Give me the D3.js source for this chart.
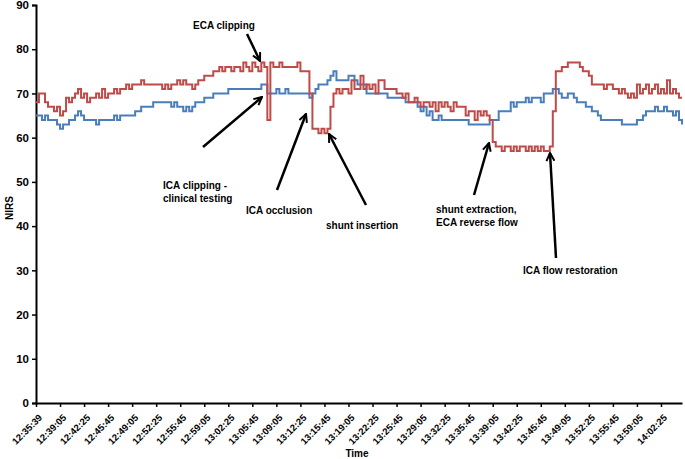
<!DOCTYPE html>
<html><head><meta charset="utf-8">
<script src="https://cdn.jsdelivr.net/npm/d3@7"></script>
<style>
body{margin:0;background:#fff;}
text{font-family:"Liberation Sans",Arial,sans-serif;font-weight:bold;fill:#000;}
</style></head>
<body><svg id="c" width="685" height="459"></svg>
<script>
const timeLabels = ["12:35:39","12:39:05","12:42:25","12:45:45","12:49:05","12:52:25","12:55:45","12:59:05","13:02:25","13:05:45","13:09:05","13:12:25","13:15:45","13:19:05","13:22:25","13:25:45","13:29:05","13:32:25","13:35:45","13:39:05","13:42:25","13:45:45","13:49:05","13:52:25","13:55:45","13:59:05","14:02:25"];
const pointsPerLabel = 8;
const yTicks = [0,10,20,30,40,50,60,70,80,90];

const redSeries = [68,70,70,68,67,67,66,67,65,66,69,68,69,70,71,69,70,68,69,69,
70,69,71,69,70,70,71,70,71,71,72,71,72,72,72,73,72,72,72,72,
72,72,71,72,71,72,72,73,72,73,72,72,71,72,73,73,74,74,74,75,
75,76,75,76,76,75,76,76,75,77,76,75,77,76,75,77,76,64,77,76,
76,77,76,76,76,76,76,77,75,75,75,70,62,62,61,62,61,62,67,70,
71,70,71,71,70,73,71,71,74,71,72,71,72,70,73,73,71,71,71,71,
70,70,69,70,68,68,69,68,67,68,68,67,68,66,68,67,68,67,66,68,
67,67,67,65,66,66,64,66,65,66,65,64,59,58,58,57,58,58,57,58,
57,58,58,57,58,57,58,57,58,57,57,58,66,75,75,76,76,77,77,77,
77,76,75,75,74,72,72,72,72,71,72,72,71,71,70,71,70,69,70,69,
72,70,71,72,70,71,72,70,71,70,73,70,71,70,69,69];

const blueSeries = [65,65,64,65,64,64,64,63,62,63,63,64,64,65,66,65,64,64,64,64,
63,64,64,64,64,64,65,64,65,65,65,65,65,66,66,67,67,67,67,68,
68,68,68,68,68,67,68,67,67,66,67,66,67,68,68,68,69,69,69,70,
70,70,70,70,71,71,71,71,71,71,71,71,71,71,71,72,72,70,70,70,
71,70,70,71,70,70,70,70,70,70,70,69,70,71,72,72,72,73,74,75,
73,73,73,73,74,74,73,72,72,72,70,70,70,70,70,70,70,69,69,69,
69,69,69,68,68,68,68,67,66,67,65,66,64,64,65,64,64,64,64,64,
64,64,64,64,63,63,63,63,63,63,63,64,64,64,66,66,66,66,68,67,
68,68,68,69,68,69,69,69,68,70,70,70,71,71,70,69,69,70,70,69,
68,68,68,67,67,66,66,65,64,64,64,64,64,64,64,63,63,63,63,63,
64,64,65,66,66,66,67,66,66,67,66,66,65,66,64,63];

const annotations = [
  {lines:["ECA clipping"], x:193, y:25, from:[247,34], to:[260,61]},
  {lines:["ICA clipping -","clinical testing"], x:163, y:185, from:[203,147], to:[262,97]},
  {lines:["ICA occlusion"], x:246, y:210, from:[277,190], to:[306,114]},
  {lines:["shunt insertion"], x:326, y:225, from:[366,205], to:[329,134]},
  {lines:["shunt extraction,","ECA reverse flow"], x:436, y:209, from:[474,195], to:[489,143]},
  {lines:["ICA flow restoration"], x:523, y:270, from:[556,258], to:[550,153]}
];

const svg = d3.select("#c");
const n = redSeries.length;
const x = d3.scaleLinear().domain([0, n-1]).range([36, 682]);
const y = d3.scaleLinear().domain([0, 90]).range([403, 5]);

// axes
const yAxis = d3.axisLeft(y).tickValues(yTicks).tickSize(4).tickPadding(3);
const gy = svg.append("g").attr("transform","translate(36,0)").call(yAxis);
gy.select(".domain").attr("stroke","#000").attr("stroke-width",2);
gy.selectAll(".tick line").attr("stroke","#000").attr("stroke-width",1.5);
gy.selectAll(".tick text").style("font-size","11.5px").style("font-weight","bold");

const tickIdx = timeLabels.map((d,i)=>i*pointsPerLabel);
const xAxis = d3.axisBottom(x).tickValues(tickIdx).tickSize(4).tickSizeOuter(0)
  .tickFormat((d,i)=>timeLabels[i]);
const gx = svg.append("g").attr("transform","translate(0,403)").call(xAxis);
gx.select(".domain").attr("stroke","#000").attr("stroke-width",2);
gx.selectAll(".tick line").attr("stroke","#000").attr("stroke-width",1.5);
gx.selectAll(".tick text").style("font-size","9.5px").style("font-weight","bold")
  .attr("text-anchor","end").attr("dy","0.35em")
  .attr("transform","translate(4,13) rotate(-45)").attr("y",0).attr("x",0);

// lines
const line = d3.line().x((d,i)=>x(i)).y(d=>y(d)).curve(d3.curveStepAfter);
svg.append("path").datum(blueSeries).attr("d",line).attr("fill","none")
  .attr("stroke","#4A7EBB").attr("stroke-width",2);
svg.append("path").datum(redSeries).attr("d",line).attr("fill","none")
  .attr("stroke","#BE4B48").attr("stroke-width",2);

// axis titles
svg.append("text").attr("transform","translate(13,208) rotate(-90)")
  .attr("text-anchor","middle").style("font-size","10px").text("NIRS");
svg.append("text").attr("x",357).attr("y",457).attr("text-anchor","middle")
  .style("font-size","10px").text("Time");

// annotations
const defs = svg.append("defs");
defs.append("marker").attr("id","arr").attr("viewBox","0 0 10 10").attr("refX",9).attr("refY",5)
  .attr("markerWidth",4).attr("markerHeight",4).attr("orient","auto").attr("markerUnits","strokeWidth")
  .append("path").attr("d","M1,1 L9,5 L1,9").attr("fill","none").attr("stroke","#000").attr("stroke-width",2);
annotations.forEach(a=>{
  const t = svg.append("text").attr("x",a.x).attr("y",a.y).style("font-size","10px");
  a.lines.forEach((l,i)=>t.append("tspan").attr("x",a.x).attr("dy", i===0? "0.35em":"1.3em").text(l));
  svg.append("line").attr("x1",a.from[0]).attr("y1",a.from[1]).attr("x2",a.to[0]).attr("y2",a.to[1])
    .attr("stroke","#000").attr("stroke-width",2.5).attr("marker-end","url(#arr)");
});
</script></body></html>
